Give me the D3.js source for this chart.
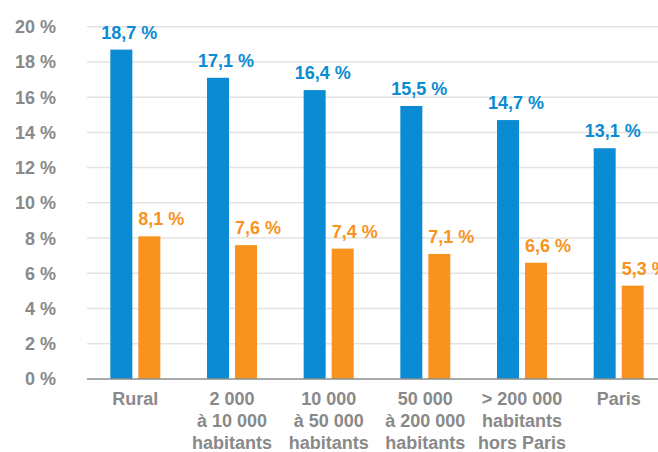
<!DOCTYPE html>
<html><head><meta charset="utf-8">
<script src="https://cdn.jsdelivr.net/npm/d3@7"></script>
<style>
html,body{margin:0;padding:0;background:#fff;}
svg{display:block;font-family:"Liberation Sans",Arial,sans-serif;font-weight:bold;}
</style></head>
<body>
<svg id="c" width="658" height="452"></svg>
<script>
const categories = [["Rural"],["2 000","à 10 000","habitants"],["10 000","à 50 000","habitants"],["50 000","à 200 000","habitants"],["> 200 000","habitants","hors Paris"],["Paris"]];
const seriesBlue = [18.7,17.1,16.4,15.5,14.7,13.1];
const seriesOrange = [8.1,7.6,7.4,7.1,6.6,5.3];
const yTicks = [0,2,4,6,8,10,12,14,16,18,20];

const svg = d3.select("#c");
const x = d3.scaleBand().domain(d3.range(categories.length)).range([87,667]);
const y = d3.scaleLinear().domain([0,20]).range([379,26.7]);
const blue = "#0A8BD3", orange = "#F7931E", grey = "#898989";
const fmt = v => v.toFixed(1).replace(".", ",") + " %";

// gridlines
svg.append("g").selectAll("line").data(yTicks.filter(d=>d>0)).join("line")
  .attr("x1",87).attr("x2",658).attr("y1",d=>y(d)).attr("y2",d=>y(d))
  .attr("stroke","#e3e3e3").attr("stroke-width",1.5);

// y tick labels
svg.append("g").selectAll("text").data(yTicks).join("text")
  .attr("x",56).attr("y",d=>y(d)).attr("dy","0.36em").attr("text-anchor","end")
  .attr("fill",grey).attr("font-size",18).text(d=>d+" %");

const bw = 22;
const cx = i => x(i) + x.bandwidth()/2;
// bars
svg.append("g").selectAll("rect").data(seriesBlue).join("rect")
  .attr("x",(d,i)=>cx(i)-25).attr("width",bw).attr("y",d=>y(d)).attr("height",d=>y(0)-y(d)).attr("fill",blue);
svg.append("g").selectAll("rect").data(seriesOrange).join("rect")
  .attr("x",(d,i)=>cx(i)+3).attr("width",bw).attr("y",d=>y(d)).attr("height",d=>y(0)-y(d)).attr("fill",orange);

// value labels
svg.append("g").selectAll("text").data(seriesBlue).join("text")
  .attr("x",(d,i)=>cx(i)-6).attr("y",d=>y(d)-11).attr("text-anchor","middle")
  .attr("fill",blue).attr("font-size",18).text(fmt);
svg.append("g").selectAll("text").data(seriesOrange).join("text")
  .attr("x",(d,i)=>cx(i)+3).attr("y",d=>y(d)-11).attr("text-anchor","start")
  .attr("fill",orange).attr("font-size",18).text(fmt);

// baseline
svg.append("line").attr("x1",87).attr("x2",658).attr("y1",y(0)).attr("y2",y(0))
  .attr("stroke","#8c8c8c").attr("stroke-width",1.5);

// category labels
const cg = svg.append("g").selectAll("text").data(categories).join("text")
  .attr("text-anchor","middle").attr("fill",grey).attr("font-size",18);
cg.each(function(lines,i){
  d3.select(this).selectAll("tspan").data(lines).join("tspan")
    .attr("x",cx(i)).attr("y",(l,j)=>405+j*22).text(l=>l);
});
</script>
</body></html>
